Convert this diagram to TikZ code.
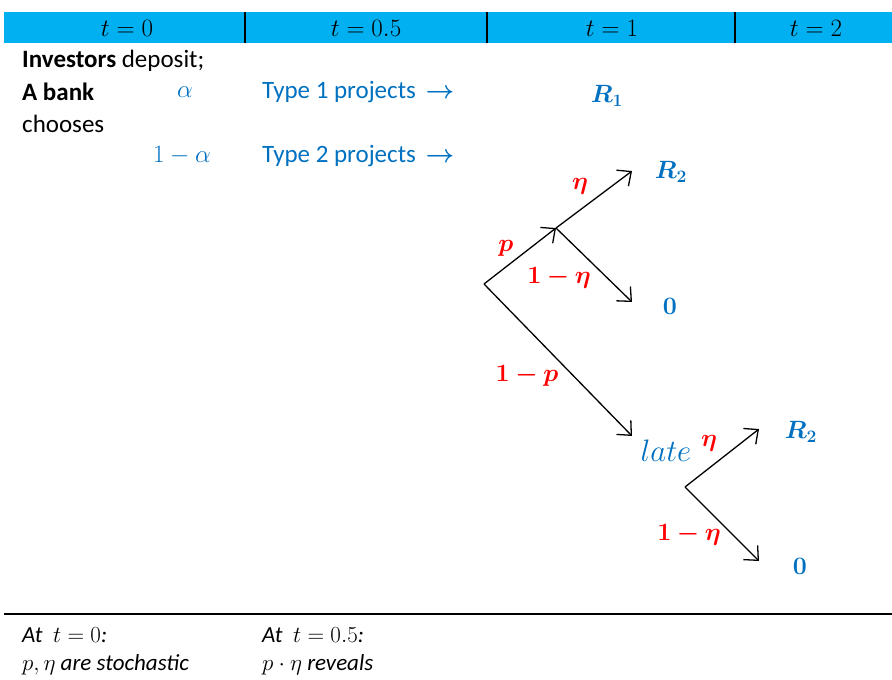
\RequirePackage{fix-cm}
\documentclass[tikz,border=0pt]{standalone}
\usepackage{amsmath,bm}
\usepackage[no-math]{fontspec}
\setmainfont{Carlito}
\usetikzlibrary{arrows.meta}
\definecolor{hdr}{HTML}{00B0F0}
\definecolor{tblue}{HTML}{0070C0}
\definecolor{tred}{HTML}{FF0000}
\tikzset{
  arr/.style={draw=black, line width=1.3pt, -{Straight Barb[length=11pt,width=20pt,line width=1.3pt]}},
  txt/.style={font=\fontsize{25}{30}\selectfont, inner sep=0pt, anchor=west},
  bl/.style={txt, text=tblue},
  rd/.style={font=\fontsize{25}{30}\selectfont, inner sep=0pt, text=tred},
  bv/.style={font=\fontsize{25}{28}\selectfont, inner sep=0pt, text=tblue},
  hd/.style={font=\fontsize{25}{30}\selectfont, inner sep=0pt},
  note/.style={font=\fontsize{23}{28}\selectfont, inner sep=0pt, anchor=west},
  divider/.style={line width=1.3pt, draw=black}
}
\begin{document}
\begin{tikzpicture}[x=1pt,y=-1pt]
\useasboundingbox (0,0) rectangle (892,680);
% header bar
\fill[hdr] (4,12) rectangle (892,43);
\draw[divider] (245,12) -- (245,43);
\draw[divider] (487,12) -- (487,43);
\draw[divider] (735,12) -- (735,43);
\node[hd] (h0) at (127,28) {$t=0$};
\node[hd] (h1) at (366,28) {$t=0.5$};
\node[hd] (h2) at (612,28) {$t=1$};
\node[hd] (h3) at (816,28) {$t=2$};
% left texts
\node[txt] (inv) at (22,61) {\textbf{Investors} deposit;};
\node[txt] (bank) at (22,92) {\textbf{A bank}};
\node[txt] (ch) at (22,124) {chooses};
\node[bv] (al) at (185,92) {$\alpha$};
\node[bv] (oal) at (182,155) {$1-\alpha$};
\node[bl] (t1) at (262,92) {Type 1 projects \,$\boldsymbol{\rightarrow}$};
\node[bl] (t2) at (262,156) {Type 2 projects \,$\boldsymbol{\rightarrow}$};
\node[bv] (r1) at (607,96) {$\boldsymbol{R_1}$};
% tree
\coordinate (root) at (484,284);
\coordinate (b1) at (556,228);
\coordinate (e1) at (632,171);
\coordinate (e2) at (632,302);
\coordinate (e3) at (632,436);
\coordinate (b2) at (685,487);
\coordinate (e4) at (759,429);
\coordinate (e5) at (759,561);
\draw[arr] (root) -- (b1);
\draw[arr] (b1) -- (e1);
\draw[arr] (b1) -- (e2);
\draw[arr] (root) -- (e3);
\draw[arr] (b2) -- (e4);
\draw[arr] (b2) -- (e5);
\node[bv] (r2a) at (671,172) {$\boldsymbol{R_2}$};
\node[bv] (z1) at (670,306) {$\mathbf{0}$};
\node[rd] (leta1) at (580,186) {$\boldsymbol{\eta}$};
\node[rd] (lp) at (506,248) {$\boldsymbol{p}$};
\node[rd] (lmeta1) at (559,278) {$\mathbf{1}\boldsymbol{-}\boldsymbol{\eta}$};
\node[rd] (lmp) at (527,376) {$\mathbf{1}\boldsymbol{-}\boldsymbol{p}$};
\node[bv, font=\fontsize{31}{36}\selectfont] (late) at (666,451) {$late$};
\node[rd] (leta2) at (709,443) {$\boldsymbol{\eta}$};
\node[bv] (r2b) at (801,432) {$\boldsymbol{R_2}$};
\node[rd] (lmeta2) at (689,535) {$\mathbf{1}\boldsymbol{-}\boldsymbol{\eta}$};
\node[bv] (z2) at (800,566) {$\mathbf{0}$};
% bottom
\draw[line width=1.3pt] (4,614) -- (892,614);
\node[note] (n1) at (22,635) {\textit{At} \ $t=0$\textit{:}};
\node[note] (n2) at (22,665) {$p,\eta$ \textit{are stochastic}};
\node[note] (n3) at (262,635) {\textit{At} \ $t=0.5$\textit{:}};
\node[note] (n4) at (262,665) {$p\cdot\eta$ \textit{reveals}};
\end{tikzpicture}
\end{document}
